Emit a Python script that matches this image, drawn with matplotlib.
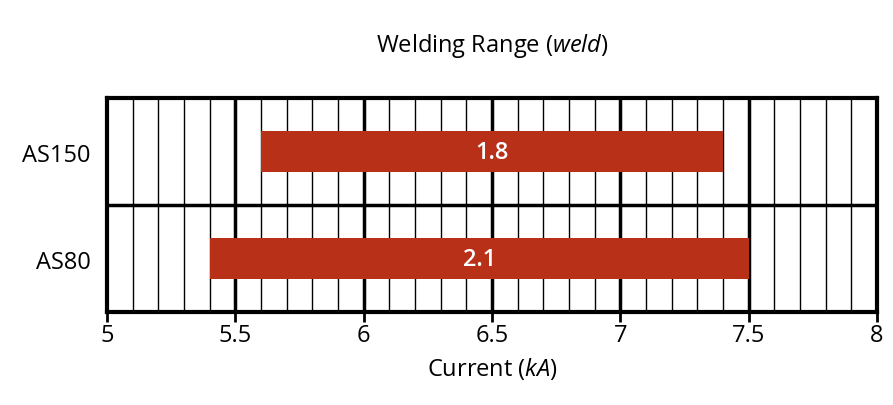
import matplotlib.pyplot as plt
import numpy as np

plt.rcParams["font.family"] = ["Open Sans", "DejaVu Sans"]
plt.rcParams["mathtext.fontset"] = "custom"
plt.rcParams["mathtext.rm"] = "Open Sans"
plt.rcParams["mathtext.it"] = "Open Sans:italic"

# data
products = ["AS80", "AS150"]
range_min = [5.4, 5.6]
range_max = [7.5, 7.4]
bar_color = "#B83018"

fig = plt.figure(figsize=(8.93, 4.06), dpi=100)
ax = fig.add_axes([0.12, 0.229, 0.862, 0.527])

ypos = np.arange(len(products))
widths = np.array(range_max) - np.array(range_min)
ax.barh(ypos, widths, left=range_min, height=0.38, color=bar_color, zorder=3)
for y, lo, w in zip(ypos, range_min, widths):
    ax.text(lo + w / 2, y, f"{w:.1f}", ha="center", va="center",
            color="white", fontsize=17, fontweight="semibold", zorder=4)

# grid: thin every 0.1, thick every 0.5
ax.set_xlim(5, 8)
ax.set_ylim(-0.5, 1.5)
for x in np.arange(5.1, 8.0, 0.1):
    major = abs(x * 2 - round(x * 2)) < 1e-6
    ax.axvline(x, color="black", lw=2.5 if major else 1.0, zorder=1)
ax.axhline(0.5, color="black", lw=2.5, zorder=1)

ax.set_xticks(np.arange(5, 8.01, 0.5))
ax.set_xticklabels(["5", "5.5", "6", "6.5", "7", "7.5", "8"])
ax.set_yticks(ypos)
ax.set_yticklabels(products)
ax.tick_params(axis="x", length=7, width=2, labelsize=17, pad=1)
ax.tick_params(axis="y", length=0, labelsize=17, pad=12)
for s in ax.spines.values():
    s.set_linewidth(3)

ax.set_xlabel("Current $\\it{(kA)}$", fontsize=17, labelpad=6)
ax.set_title("Welding Range $\\it{(weld)}$", fontsize=17, pad=34)

fig.savefig("out.png", dpi=100)
